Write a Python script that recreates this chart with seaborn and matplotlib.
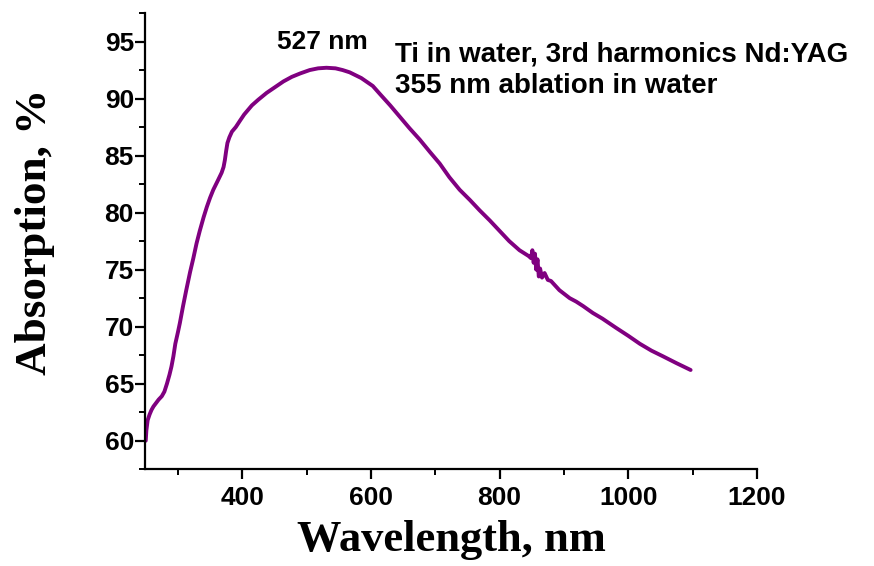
import matplotlib
matplotlib.use("Agg")
import matplotlib.pyplot as plt
import seaborn as sns
import pandas as pd
from matplotlib.ticker import MultipleLocator

wavelength = [250, 251, 253, 256, 259, 262, 266, 270, 275, 279, 283, 287, 290, 293,
              296, 300, 303, 308, 313, 319, 324, 329, 334, 340, 345, 350, 355, 362,
              368, 371, 373, 375, 377, 380, 384, 390, 397, 403, 409, 415, 425, 438,
              451, 464, 477, 490, 505, 518, 531, 545, 556, 567, 585, 603, 614, 630,
              645, 660, 676, 692, 707, 722, 738, 754, 769, 785, 800, 815, 831, 845,
              849, 851, 853, 855, 857, 859, 861, 863, 866, 870, 875, 880, 893, 909,
              919, 930, 945, 960, 981, 1000, 1018, 1036, 1054, 1075, 1097]
absorption = [60.0, 60.9, 61.8, 62.3, 62.7, 63.0, 63.3, 63.6, 63.9, 64.3, 65.0, 65.8,
              66.5, 67.4, 68.5, 69.5, 70.3, 71.8, 73.2, 74.8, 76.0, 77.3, 78.4, 79.6,
              80.5, 81.3, 82.0, 82.8, 83.5, 84.0, 84.6, 85.4, 86.1, 86.6, 87.1, 87.5,
              88.1, 88.6, 89.0, 89.4, 89.9, 90.5, 91.0, 91.5, 91.9, 92.2, 92.5, 92.65,
              92.7, 92.65, 92.5, 92.3, 91.8, 91.1, 90.4, 89.4, 88.4, 87.4, 86.4, 85.3,
              84.3, 83.1, 82.0, 81.1, 80.2, 79.3, 78.4, 77.5, 76.7, 76.2, 76.0, 76.7,
              75.6, 76.4, 75.0, 75.9, 74.4, 75.1, 74.3, 74.7, 74.1, 74.0, 73.2, 72.5,
              72.2, 71.8, 71.2, 70.7, 69.9, 69.2, 68.5, 67.9, 67.4, 66.8, 66.2]

x_ticks = [400, 600, 800, 1000, 1200]
y_ticks = [60, 65, 70, 75, 80, 85, 90, 95]
peak_label = "527 nm"
info_lines = ["Ti in water, 3rd harmonics Nd:YAG", "355 nm ablation in water"]

df = pd.DataFrame({"Wavelength": wavelength, "Absorption": absorption})

sns.set_style("ticks")
plt.rcParams["font.family"] = ["Liberation Sans", "DejaVu Sans"]
plt.rcParams["text.color"] = "black"
plt.rcParams["axes.labelcolor"] = "black"
plt.rcParams["xtick.color"] = "black"
plt.rcParams["ytick.color"] = "black"

W, H = 874, 566
fig = plt.figure(figsize=(W / 100, H / 100), dpi=100)
ax = fig.add_axes([0.166, 0.171, 0.700, 0.806])

sns.lineplot(data=df, x="Wavelength", y="Absorption", ax=ax, color="#800080",
             linewidth=2.8, sort=False)

ax.set_xlim(249, 1200)
ax.set_ylim(57.5, 97.5)
ax.set_xticks(x_ticks)
ax.set_yticks(y_ticks)
ax.xaxis.set_minor_locator(MultipleLocator(100))
ax.yaxis.set_minor_locator(MultipleLocator(2.5))

for lab in ax.get_xticklabels() + ax.get_yticklabels():
    lab.set_fontweight("bold")
    lab.set_fontsize(19)

ax.tick_params(which="major", direction="out", length=7, width=1.6)
ax.tick_params(which="minor", direction="out", length=4, width=1.4)
ax.tick_params(axis="x", which="major", pad=5)
ax.tick_params(axis="y", which="major", pad=1)

for s in ["top", "right"]:
    ax.spines[s].set_visible(False)
for s in ["left", "bottom"]:
    ax.spines[s].set_linewidth(1.6)
    ax.spines[s].set_color("black")

serif = ["Liberation Serif", "DejaVu Serif"]
ax.set_xlabel("Wavelength, nm", fontsize=32, fontweight="bold", family=serif)
ax.set_ylabel("Absorption, %", fontsize=32.5, fontweight="bold", family=serif)
ax.xaxis.set_label_coords(0.5, -0.112)
ax.yaxis.set_label_coords(-0.147, 0.52)

fig.text(322 / W, 1 - 49.3 / H, peak_label, ha="center", va="baseline",
         fontsize=19, fontweight="bold")
fig.text(395 / W, 1 - 61.7 / H, info_lines[0], ha="left", va="baseline",
         fontsize=20, fontweight="bold")
fig.text(395 / W, 1 - 93.3 / H, info_lines[1], ha="left", va="baseline",
         fontsize=20, fontweight="bold")

fig.savefig("out.png", dpi=100)
